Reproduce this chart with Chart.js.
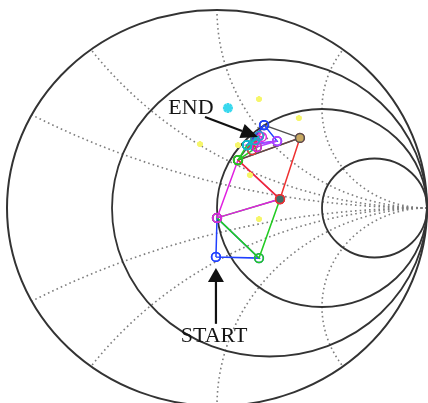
<!DOCTYPE html>
<html>
<head>
<meta charset="utf-8">
<script src="https://cdn.jsdelivr.net/npm/chart.js@4"></script>
<style>
  html, body { margin: 0; padding: 0; background: #ffffff; }
  canvas { display: block; }
</style>
</head>
<body>
<canvas id="smith" width="428" height="403"></canvas>
<script>
// Smith chart grid: constant-resistance circles (solid) and constant-reactance arcs (dotted)
const resistanceCircles = [0, 1 / 3, 1, 3];
const reactanceArcs = [0.25, 0.5, 1, 2, -0.25, -0.5, -1, -2];

// Simplex vertices in the reflection-coefficient plane (real, imaginary)
const vertexRe = [-0.005, 0.200, 0.000, 0.300, 0.100, 0.395, 0.224, 0.286, 0.143, 0.167, 0.181, 0.200, 0.214, 0.190];
const vertexIm = [-0.247, -0.253, -0.050, 0.045, 0.242, 0.354, 0.419, 0.338, 0.318, 0.293, 0.343, 0.364, 0.359, 0.308];

// Each simplex iteration is a triangle of vertex indices
const simplexSteps = [
  [0, 1, 2], [2, 1, 3], [2, 3, 4], [3, 4, 5], [4, 5, 6], [6, 7, 8],
  [7, 8, 13], [4, 8, 13], [8, 9, 10], [10, 11, 9], [11, 12, 13], [8, 10, 11]
];
const stepColors = [
  '#2040ff', '#22cc22', '#e020e0', '#ee3030', '#505050', '#2040ff',
  '#b040ff', '#22cc22', '#10b8c8', '#ee3030', '#e020e0', '#10b8c8'
];

// Rejected trial points
const trialRe = [0.200, 0.390, -0.081, 0.157, 0.200, 0.100];
const trialIm = [0.550, 0.455, 0.323, 0.167, -0.056, 0.318];
const bestGuessRe = [0.052];
const bestGuessIm = [0.505];

// Vertices revisited by several iterations get a filled marker
const vertexFill = { 3: '#3f6f6a', 5: '#c9a860' };

// Visible window of the plane
const X_MIN = -1 - 7 / 210, X_MAX = X_MIN + 428 / 210;
const Y_MAX = 1 + 10 / 198, Y_MIN = Y_MAX - 403 / 198;

const datasets = [];
simplexSteps.forEach((tri, i) => {
  const ring = tri.concat([tri[0]]);
  const pts = ring.map(k => ({ x: vertexRe[k], y: vertexIm[k] }));
  datasets.push({
    type: 'scatter',
    data: pts,
    showLine: true,
    borderColor: stepColors[i],
    borderWidth: 1.5,
    pointRadius: 4.4,
    pointBorderWidth: 1.5,
    pointBorderColor: stepColors[i],
    pointBackgroundColor: ctx => vertexFill[ring[ctx.dataIndex]] || 'rgba(0,0,0,0)',
    order: simplexSteps.length - i + 2
  });
});
datasets.push({
  type: 'scatter',
  data: trialRe.map((u, i) => ({ x: u, y: trialIm[i] })),
  pointStyle: 'star',
  pointRadius: 3,
  pointBorderWidth: 2.5,
  pointBorderColor: '#f6f66a',
  pointBackgroundColor: '#f6f66a',
  order: 1
});
datasets.push({
  type: 'scatter',
  data: bestGuessRe.map((u, i) => ({ x: u, y: bestGuessIm[i] })),
  pointStyle: 'star',
  pointRadius: 5,
  pointBorderWidth: 2.8,
  pointBorderColor: '#38d8ee',
  pointBackgroundColor: '#38d8ee',
  order: 0
});

function pxScale(chart) {
  const xs = chart.scales.x, ys = chart.scales.y;
  return {
    px: u => xs.getPixelForValue(u),
    py: v => ys.getPixelForValue(v),
    kx: xs.getPixelForValue(1) - xs.getPixelForValue(0),
    ky: ys.getPixelForValue(0) - ys.getPixelForValue(1)
  };
}

const smithGrid = {
  id: 'smithGrid',
  beforeDatasetsDraw(chart) {
    const ctx = chart.ctx;
    const s = pxScale(chart);
    ctx.save();
    // dotted reactance arcs
    ctx.strokeStyle = '#7e7e7e';
    ctx.lineWidth = 1.6;
    ctx.setLineDash([1.6, 3.1]);
    reactanceArcs.forEach(x => {
      const ax = Math.abs(x);
      const R = 1 / ax;
      const eu = (ax * ax - 1) / (ax * ax + 1), ev = 2 * ax / (ax * ax + 1);
      let phiE = Math.atan2(ev - R, eu - 1);
      if (phiE > -Math.PI / 2) phiE -= 2 * Math.PI;
      const phi0 = -Math.PI / 2;
      const n = 240;
      ctx.beginPath();
      for (let i = 0; i <= n; i++) {
        const phi = phi0 + (phiE - phi0) * i / n;
        const u = 1 + R * Math.cos(phi);
        let v = R + R * Math.sin(phi);
        if (x < 0) v = -v;
        const X = s.px(u), Y = s.py(v);
        if (i === 0) ctx.moveTo(X, Y); else ctx.lineTo(X, Y);
      }
      ctx.stroke();
    });
    // solid resistance circles
    ctx.setLineDash([]);
    ctx.strokeStyle = '#333333';
    resistanceCircles.forEach(r => {
      const cu = r / (1 + r), rad = 1 / (1 + r);
      ctx.lineWidth = r === 0 ? 2 : 1.8;
      ctx.beginPath();
      ctx.ellipse(s.px(cu), s.py(0), rad * s.kx, rad * s.ky, 0, 0, Math.PI * 2);
      ctx.stroke();
    });
    ctx.restore();
  }
};

function drawArrow(ctx, x1, y1, x2, y2, headLen, headHalf) {
  const a = Math.atan2(y2 - y1, x2 - x1);
  const bx = x2 - headLen * Math.cos(a), by = y2 - headLen * Math.sin(a);
  ctx.beginPath();
  ctx.moveTo(x1, y1);
  ctx.lineTo(bx, by);
  ctx.stroke();
  ctx.beginPath();
  ctx.moveTo(x2, y2);
  ctx.lineTo(bx + headHalf * Math.sin(a), by - headHalf * Math.cos(a));
  ctx.lineTo(bx - headHalf * Math.sin(a), by + headHalf * Math.cos(a));
  ctx.closePath();
  ctx.fill();
}

const pathLabels = {
  id: 'pathLabels',
  afterDatasetsDraw(chart) {
    const ctx = chart.ctx;
    const s = pxScale(chart);
    ctx.save();
    ctx.strokeStyle = '#111111';
    ctx.fillStyle = '#111111';
    ctx.lineWidth = 2.2;
    drawArrow(ctx, s.px(-0.057), s.py(0.460), s.px(0.195), s.py(0.359), 17, 7.5);
    drawArrow(ctx, s.px(-0.005), s.py(-0.585), s.px(-0.005), s.py(-0.303), 14, 8);
    ctx.font = '22px "Liberation Serif", "Times New Roman", serif';
    ctx.textAlign = 'center';
    ctx.textBaseline = 'alphabetic';
    ctx.fillStyle = '#141414';
    ctx.fillText('END', s.px(-0.124), s.py(0.475));
    ctx.fillText('START', s.px(-0.014), s.py(-0.677));
    ctx.restore();
  }
};

new Chart(document.getElementById('smith'), {
  type: 'scatter',
  data: { datasets },
  options: {
    responsive: false,
    animation: false,
    devicePixelRatio: 1,
    layout: { padding: 0, autoPadding: false },
    plugins: { legend: { display: false }, tooltip: { enabled: false } },
    elements: { line: { tension: 0 } },
    scales: {
      x: { type: 'linear', min: X_MIN, max: X_MAX, display: false },
      y: { type: 'linear', min: Y_MIN, max: Y_MAX, display: false }
    }
  },
  plugins: [smithGrid, pathLabels]
});
</script>
</body>
</html>
